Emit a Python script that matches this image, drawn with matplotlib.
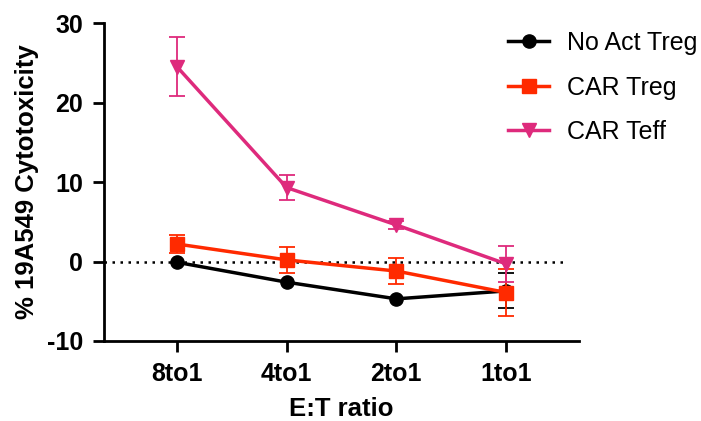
import matplotlib
matplotlib.use("Agg")
import matplotlib.pyplot as plt
import numpy as np

plt.rcParams['font.family'] = ['Liberation Sans', 'DejaVu Sans']

categories = ["8to1", "4to1", "2to1", "1to1"]
series_names = ["No Act Treg", "CAR Treg", "CAR Teff"]
no_act_treg = [-0.1, -2.6, -4.7, -3.7]
no_act_treg_err = [0.0, 0.0, 0.0, 2.2]
car_treg = [2.2, 0.2, -1.2, -3.9]
car_treg_err = [1.1, 1.6, 1.6, 3.0]
car_teff = [24.5, 9.3, 4.6, -0.3]
car_teff_err = [3.7, 1.6, 0.5, 2.3]
yticks = [-10, 0, 10, 20, 30]

colors = ["#000000", "#FF2A00", "#DE2A7C"]
markers = ["o", "s", "v"]

fig = plt.figure(figsize=(7.01, 4.21), dpi=100)
ax = fig.add_axes([104/701, 1 - 341/421, (579-104)/701, (341-23)/421])

x = np.arange(len(categories))
ax.axhline(0, xmax=(566-104)/(579-104), color="black", linestyle=(0, (1, 2.2)),
           linewidth=1.8, zorder=1)

data = [(no_act_treg, no_act_treg_err), (car_treg, car_treg_err), (car_teff, car_teff_err)]
handles = []
for i, ((vals, errs), name) in enumerate(zip(data, series_names)):
    errs = np.array(errs)
    mask = errs > 0
    ax.errorbar(x[mask], np.array(vals)[mask], yerr=errs[mask], fmt="none",
                ecolor=colors[i], elinewidth=1.3, capsize=6, capthick=1.3, zorder=2 + i)
    h, = ax.plot(x, vals, color=colors[i], marker=markers[i], markersize=9.5,
                 linewidth=2.5, label=name, zorder=3 + i)
    handles.append(h)

ax.set_xlim(-0.665, 3.665)
ax.set_ylim(-10, 30)
ax.set_xticks(x)
ax.set_xticklabels(categories, fontsize=18, fontweight="bold")
ax.set_yticks(yticks)
ax.set_yticklabels([str(t) for t in yticks], fontsize=18, fontweight="bold")
ax.set_xlabel("E:T ratio", fontsize=18.5, fontweight="bold", labelpad=8)
ax.set_ylabel("% 19A549 Cytotoxicity", fontsize=18.5, fontweight="bold", labelpad=6)

for s in ["top", "right"]:
    ax.spines[s].set_visible(False)
for s in ["left", "bottom"]:
    ax.spines[s].set_linewidth(2)
ax.tick_params(axis="both", width=2, length=8, pad=7)

fig.legend(handles=handles, loc="upper left", bbox_to_anchor=(508/701, 1 - 31/421),
           frameon=False, fontsize=18, handlelength=1.65, handletextpad=0.7,
           labelspacing=0.82, borderaxespad=0, borderpad=0)

fig.savefig("out.png", dpi=100)
